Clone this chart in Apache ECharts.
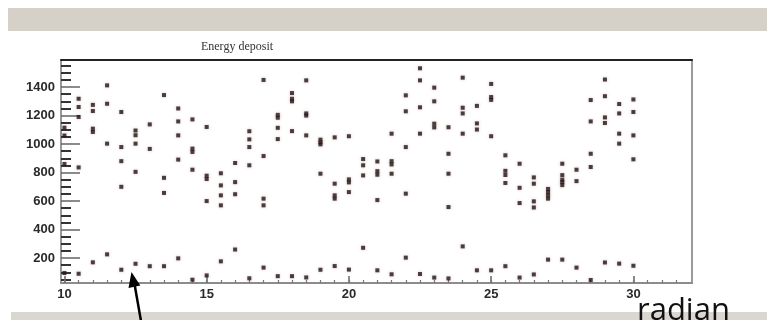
<!DOCTYPE html>
<html>
<head>
<meta charset="utf-8">
<script src="https://cdn.jsdelivr.net/npm/echarts@6/dist/echarts.min.js"></script>
<style>
  html, body { margin: 0; padding: 0; background: #ffffff; }
  #chart { width: 767px; height: 320px; }
</style>
</head>
<body>
<div id="chart"></div>
<script>
// Detector columns (radian) and the energy deposits measured in each one
const radians = [10, 10.5, 11, 11.5, 12, 12.5, 13, 13.5, 14, 14.5,
                 15, 15.5, 16, 16.5, 17, 17.5, 18, 18.5, 19, 19.5,
                 20, 20.5, 21, 21.5, 22, 22.5, 23, 23.5, 24, 24.5,
                 25, 25.5, 26, 26.5, 27, 27.5, 28, 28.5, 29, 29.5, 30];

// High-energy cluster, one list per column
const upperDeposits = [
  [1115, 1060, 860],
  [1318, 1260, 1190, 836],
  [1275, 1232, 1108, 1085],
  [1412, 1283, 1003],
  [1225, 979, 880, 700],
  [1095, 1062, 1003, 805],
  [1138, 966],
  [1344, 763, 657],
  [1250, 1159, 1061, 891],
  [1173, 968, 945, 820],
  [1120, 778, 755, 600],
  [795, 710, 640, 570],
  [867, 733, 648],
  [1090, 1033, 979, 851],
  [1450, 916, 617, 570],
  [1205, 1185, 1114, 1035],
  [1358, 1318, 1300, 1091],
  [1447, 1215, 1200, 1061],
  [1031, 1012, 998, 792],
  [1047, 722, 640, 617],
  [1055, 752, 731, 663],
  [895, 851, 780],
  [878, 810, 785, 607],
  [1073, 880, 857, 792],
  [1342, 1230, 979, 652],
  [1532, 1447, 1258, 1073],
  [1396, 1300, 1143, 1117],
  [1118, 932, 792, 558],
  [1466, 1255, 1215, 1073],
  [1268, 1145, 1102],
  [1422, 1330, 1310, 1055],
  [921, 812, 783, 727],
  [862, 693, 586],
  [766, 722, 598, 555],
  [685, 663, 640, 617],
  [862, 782, 750, 733, 712],
  [820, 740],
  [1309, 1159, 932, 839],
  [1453, 1336, 1187, 1148],
  [1281, 1215, 1073, 1003],
  [1313, 1225, 1061, 893]
];

// Low-energy deposit, one per column
const lowerDeposits = [95, 90, 170, 226, 118, 160, 143, 143, 198, 48,
                       78, 177, 260, 58, 133, 73, 73, 64, 118, 144,
                       119, 272, 114, 86, 203, 88, 63, 57, 282, 114,
                       114, 143, 63, 85, 189, 189, 133, 46, 169, 161, 146];

// Axis ticks and labels
const xLabelTicks = [10, 15, 20, 25, 30];
const xMinorTicks = [10, 10.5, 11, 11.5, 12, 12.5, 13, 13.5, 14, 14.5, 15, 15.5, 16, 16.5,
                     17, 17.5, 18, 18.5, 19, 19.5, 20, 20.5, 21, 21.5, 22, 22.5, 23, 23.5,
                     24, 24.5, 25, 25.5, 26, 26.5, 27, 27.5, 28, 28.5, 29, 29.5, 30, 30.5,
                     31, 31.5];
const yLabelTicks = [200, 400, 600, 800, 1000, 1200, 1400];
const yMinorTicks = [50, 100, 150, 250, 300, 350, 450, 500, 550, 650, 700, 750, 850, 900, 950,
                     1050, 1100, 1150, 1250, 1300, 1350, 1450, 1500, 1550];

const X_MIN = 9.88, X_MAX = 32.06;
const Y_MIN = 25, Y_MAX = 1590;

const points = [];
radians.forEach((r, i) => {
  upperDeposits[i].forEach(e => points.push([r, e]));
  points.push([r, lowerDeposits[i]]);
});

const labelFont = {
  fontFamily: '"Liberation Sans", Arial, sans-serif',
  fontWeight: 'bold',
  fontSize: 13,
  color: '#2a2a2a',
  formatter: v => String(v)
};

const chart = echarts.init(document.getElementById('chart'), null, { renderer: 'canvas' });

chart.setOption({
  animation: false,
  backgroundColor: '#ffffff',
  title: {
    text: 'Energy deposit',
    left: 232,
    top: 36,
    textAlign: 'center',
    textStyle: {
      fontFamily: '"Liberation Serif", "DejaVu Serif", serif',
      fontWeight: 'normal',
      fontSize: 12,
      color: '#333'
    }
  },
  grid: { left: 61, right: 75, top: 60, bottom: 37, containLabel: false },
  xAxis: [
    {
      type: 'value', position: 'bottom', min: X_MIN, max: X_MAX,
      axisLine: { show: true, lineStyle: { color: '#8c8c8c', width: 2 } },
      axisTick: { show: true, inside: true, length: 7, customValues: xLabelTicks,
                  lineStyle: { color: '#666', width: 1.5 } },
      axisLabel: Object.assign({ show: true, margin: 5, customValues: xLabelTicks }, labelFont),
      splitLine: { show: false }
    },
    {
      type: 'value', position: 'bottom', min: X_MIN, max: X_MAX,
      axisLine: { show: false },
      axisTick: { show: true, inside: true, length: 3, customValues: xMinorTicks,
                  lineStyle: { color: '#777', width: 1.2 } },
      axisLabel: { show: false },
      splitLine: { show: false }
    },
    {
      type: 'value', position: 'top', min: X_MIN, max: X_MAX,
      axisLine: { show: true, lineStyle: { color: '#222', width: 2 } },
      axisTick: { show: false },
      axisLabel: { show: false },
      splitLine: { show: false }
    }
  ],
  yAxis: [
    {
      type: 'value', position: 'left', min: Y_MIN, max: Y_MAX,
      axisLine: { show: true, lineStyle: { color: '#777', width: 1.5 } },
      axisTick: { show: true, inside: true, length: 19, customValues: yLabelTicks,
                  lineStyle: { color: '#666', width: 1.5 } },
      axisLabel: Object.assign({ show: true, margin: 6, customValues: yLabelTicks }, labelFont),
      splitLine: { show: false }
    },
    {
      type: 'value', position: 'left', min: Y_MIN, max: Y_MAX,
      axisLine: { show: false },
      axisTick: { show: true, inside: true, length: 10, customValues: yMinorTicks,
                  lineStyle: { color: '#333', width: 2 } },
      axisLabel: { show: false },
      splitLine: { show: false }
    },
    {
      type: 'value', position: 'right', min: Y_MIN, max: Y_MAX,
      axisLine: { show: true, lineStyle: { color: '#9a9a9a', width: 2 } },
      axisTick: { show: false },
      axisLabel: { show: false },
      splitLine: { show: false }
    }
  ],
  series: [
    {
      type: 'scatter',
      xAxisIndex: 0,
      yAxisIndex: 0,
      symbol: 'rect',
      symbolSize: 4,
      data: points,
      itemStyle: {
        color: '#1e1616',
        shadowBlur: 3,
        shadowColor: 'rgba(170, 80, 80, 0.45)'
      },
      z: 3
    }
  ],
  graphic: [
    { type: 'rect', z: -10, silent: true,
      shape: { x: 8, y: 8, width: 759, height: 23 },
      style: { fill: '#d5d1c9' } },
    { type: 'rect', z: -10, silent: true,
      shape: { x: 11, y: 312, width: 756, height: 8 },
      style: { fill: '#dad7d1' } },
    { type: 'text', z: 20, silent: true,
      x: 637, y: 296,
      style: { text: 'radian', font: '31px "Open Sans", sans-serif', fill: '#111',
               verticalAlign: 'top' } },
    { type: 'line', z: 20, silent: true,
      shape: { x1: 141, y1: 321, x2: 134.5, y2: 284 },
      style: { stroke: '#000', lineWidth: 2.5 } },
    { type: 'polygon', z: 20, silent: true,
      shape: { points: [[131.5, 272], [140.3, 285.5], [128.5, 287.9]] },
      style: { fill: '#000' } }
  ]
});
</script>
</body>
</html>
